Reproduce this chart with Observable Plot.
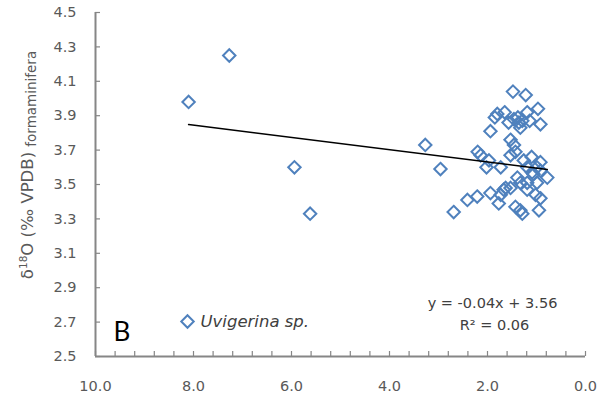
<!DOCTYPE html>
<html><head><meta charset="utf-8">
<script src="https://cdn.jsdelivr.net/npm/d3@7"></script>
<script src="https://cdn.jsdelivr.net/npm/@observablehq/plot@0.6"></script>
<style>body{margin:0;background:#fff}#chart{width:610px;height:400px}</style>
</head><body><div id="chart"></div>
<script>
// Data (x: value on reversed axis, y: δ18O)
const xValues = [7.27, 8.10, 5.94, 5.62, 3.27, 2.96, 2.69,
  1.48, 1.22, 0.97, 1.19, 1.80, 1.65, 1.85, 1.46, 1.38, 1.29, 1.36, 1.57, 1.14, 0.92, 1.33, 1.94,
  1.53, 1.46, 1.43, 1.53, 2.20, 2.14, 1.97, 2.02, 1.73, 1.26, 1.10, 0.92, 0.99, 1.09, 1.19,
  0.78, 1.39, 0.99, 1.33, 1.63, 1.94, 2.21, 2.41, 1.73, 1.77, 1.43, 1.33, 1.02, 0.92, 0.95,
  1.19, 1.53, 1.29, 1.19, 1.06, 0.92, 1.67];
const yValues = [4.25, 3.98, 3.60, 3.33, 3.73, 3.59, 3.34,
  4.04, 4.02, 3.94, 3.92, 3.91, 3.92, 3.89, 3.88, 3.89, 3.87, 3.86, 3.86, 3.87, 3.85, 3.83, 3.81,
  3.76, 3.73, 3.69, 3.67, 3.69, 3.67, 3.64, 3.60, 3.60, 3.64, 3.66, 3.63, 3.60, 3.57, 3.60,
  3.54, 3.54, 3.51, 3.51, 3.48, 3.45, 3.43, 3.41, 3.44, 3.39, 3.37, 3.35, 3.44, 3.42, 3.35,
  3.47, 3.48, 3.33, 3.51, 3.56, 3.58, 3.47];
const xDomain = [10, 0];
const yDomain = [2.5, 4.5];
const xTickValues = [10, 8, 6, 4, 2, 0];
const xMinorTickValues = [10, 9.6, 9.2, 8.8, 8.4, 8, 7.6, 7.2, 6.8, 6.4, 6, 5.6, 5.2, 4.8, 4.4, 4, 3.6, 3.2, 2.8, 2.4, 2, 1.6, 1.2, 0.8, 0.4, 0];
const yTickValues = [2.5, 2.7, 2.9, 3.1, 3.3, 3.5, 3.7, 3.9, 4.1, 4.3, 4.5];
const trendCoef = [0.0356, 3.56]; // slope, intercept of the drawn trend line
const seriesName = "Uvigerina sp.";
const equationText = "y = -0.04x + 3.56";
const r2Text = "R² = 0.06";
const panelLabel = "B";

const points = xValues.map((x, i) => ({x, y: yValues[i]}));
const trend = d3.extent(xValues).map(x => ({x, y: trendCoef[0] * x + trendCoef[1]}));

const axisColor = "#868686";
const textColor = "#595959";
const blue = "#4F81BD";
const font = "'DejaVu Sans', sans-serif";

const plot = Plot.plot({
  width: 610, height: 400,
  marginLeft: 95, marginRight: 25, marginTop: 12, marginBottom: 44,
  x: {domain: xDomain},
  y: {domain: yDomain},
  style: {fontFamily: font, fontSize: "14.5px", color: textColor, background: "#fff"},
  marks: [
    Plot.axisY(yTickValues, {tickSize: 0, tickPadding: 19, tickFormat: ".1f", label: null, fill: textColor, fontSize: 14.5}),
    Plot.axisY(yTickValues, {tickSize: 5, dx: 5, tickFormat: () => "", label: null, stroke: axisColor, strokeWidth: 1.2}),
    Plot.axisX(xTickValues, {tickSize: 0, tickPadding: 24, tickFormat: ".1f", label: null, fill: textColor, fontSize: 14.5}),
    Plot.axisX(xMinorTickValues, {tickSize: 5, dy: -5, tickFormat: () => "", label: null, stroke: axisColor, strokeWidth: 1.2}),
    Plot.ruleX([xDomain[0]], {stroke: axisColor, strokeWidth: 2}),
    Plot.ruleY([yDomain[0]], {stroke: axisColor, strokeWidth: 2}),
    Plot.dot(points, {x: "x", y: "y", symbol: "diamond2", r: 5.6, stroke: blue, strokeWidth: 2, fill: "none"}),
    Plot.line(trend, {x: "x", y: "y", stroke: "#000", strokeWidth: 1.5}),
    Plot.text([panelLabel], {frameAnchor: "bottom-left", dx: 18, dy: -16, lineAnchor: "bottom", textAnchor: "start", fontSize: 26, fill: "#000", fontFamily: "Lato, sans-serif"}),
    Plot.dot([seriesName], {frameAnchor: "bottom-left", dx: 92, dy: -35, symbol: "diamond2", r: 5.6, stroke: blue, strokeWidth: 2, fill: "none"}),
    Plot.text([seriesName], {frameAnchor: "bottom-left", dx: 105, dy: -35, lineAnchor: "middle", textAnchor: "start", fontSize: 16.5, fontStyle: "italic", fill: "#404040"}),
    Plot.text([equationText], {frameAnchor: "bottom-right", dx: -93, dy: -53, lineAnchor: "middle", textAnchor: "middle", fontSize: 14.5, fill: "#404040"}),
    Plot.text([r2Text], {frameAnchor: "bottom-right", dx: -91, dy: -31, lineAnchor: "middle", textAnchor: "middle", fontSize: 14.5, fill: "#404040"})
  ]
});

const svg = d3.select(plot);
const t = svg.append("text")
  .attr("transform", "translate(33,165) rotate(-90)")
  .attr("text-anchor", "middle")
  .attr("fill", textColor)
  .style("font-family", font)
  .style("font-size", "16.5px");
t.append("tspan").text("δ");
t.append("tspan").attr("font-size", "10.5px").attr("dy", "-6").text("18");
t.append("tspan").attr("dy", "6").text("O (‰ VPDB) ");
t.append("tspan").attr("font-size", "13.5px").attr("dy", "3").text("formaminifera");

document.getElementById("chart").appendChild(plot);
</script>
</body></html>
